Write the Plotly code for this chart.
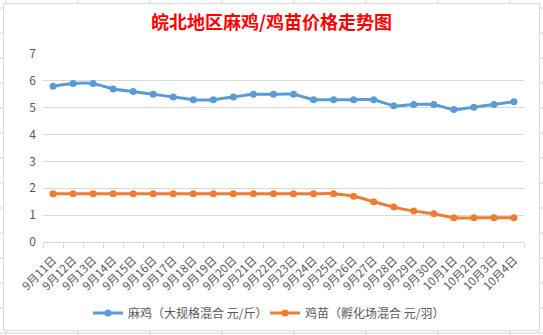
import plotly.graph_objects as go

dates = ["9月11日", "9月12日", "9月13日", "9月14日", "9月15日", "9月16日", "9月17日", "9月18日",
         "9月19日", "9月20日", "9月21日", "9月22日", "9月23日", "9月24日", "9月25日", "9月26日",
         "9月27日", "9月28日", "9月29日", "9月30日", "10月1日", "10月2日", "10月3日", "10月4日"]
maji = [5.8, 5.9, 5.9, 5.7, 5.6, 5.5, 5.4, 5.3, 5.3, 5.4, 5.5, 5.5,
        5.5, 5.3, 5.3, 5.3, 5.3, 5.07, 5.12, 5.12, 4.93, 5.02, 5.12, 5.22]
jimiao = [1.8, 1.8, 1.8, 1.8, 1.8, 1.8, 1.8, 1.8, 1.8, 1.8, 1.8, 1.8,
          1.8, 1.8, 1.8, 1.7, 1.5, 1.3, 1.15, 1.05, 0.9, 0.9, 0.9, 0.9]
series_names = ["麻鸡（大规格混合 元/斤）", "鸡苗（孵化场混合 元/羽）"]
title_text = "皖北地区麻鸡/鸡苗价格走势图"

W, H = 543, 335
L, R, T, B = 43, 19, 54, 93
pw, ph = W - L - R, H - T - B

def px(x):
    return (x - L) / pw

def py(y):
    return (H - B - y) / ph

fig = go.Figure()
fig.add_trace(go.Scatter(x=dates, y=maji, name=series_names[0], mode="lines+markers",
                         line=dict(color="#5B9BD5", width=3, shape="spline", smoothing=0.5),
                         marker=dict(size=7, color="#5B9BD5"), legend="legend"))
fig.add_trace(go.Scatter(x=dates, y=jimiao, name=series_names[1], mode="lines+markers",
                         line=dict(color="#ED7D31", width=3, shape="spline", smoothing=0.5),
                         marker=dict(size=7, color="#ED7D31"), legend="legend2"))

shapes = []
grid_c = "#D4D4D4"
for cx in [6, 78, 150, 222, 294, 366, 438, 510]:
    shapes.append(dict(type="line", xref="paper", yref="paper", x0=px(cx), x1=px(cx),
                       y0=py(0), y1=py(H), line=dict(color=grid_c, width=1), layer="below"))
for ry in [8, 33, 58, 83, 108, 133, 158, 183, 208, 233, 258, 283, 308, 333]:
    shapes.append(dict(type="line", xref="paper", yref="paper", x0=px(0), x1=px(W),
                       y0=py(ry), y1=py(ry), line=dict(color=grid_c, width=1), layer="below"))
shapes.append(dict(type="rect", xref="paper", yref="paper", x0=px(3.5), x1=px(539.5),
                   y0=py(330.5), y1=py(3.5), fillcolor="white",
                   line=dict(color="#D9D9D9", width=1), layer="below"))

leg_common = dict(orientation="h", xref="container", yref="container", xanchor="left",
                  y=1 - 313 / H, yanchor="middle", font=dict(size=12, color="#595959"),
                  itemwidth=30, bgcolor="rgba(0,0,0,0)")

fig.update_layout(
    width=W, height=H,
    margin=dict(l=L, r=R, t=T, b=B, autoexpand=False),
    paper_bgcolor="white", plot_bgcolor="rgba(0,0,0,0)",
    font=dict(family="Noto Sans CJK SC", color="#595959"),
    title=dict(text="<b>" + title_text + "</b>", x=0.5, xref="container", xanchor="center",
               y=1 - 23 / H, yref="container", yanchor="middle",
               font=dict(size=18, color="#FF0000", family="Noto Sans CJK SC")),
    showlegend=True,
    legend=dict(x=88 / W, **leg_common),
    legend2=dict(x=265 / W, **leg_common),
    shapes=shapes,
)
fig.update_xaxes(type="category", showgrid=False, showline=True, linecolor="#D9D9D9", linewidth=1,
                 ticks="outside", ticklen=5, tickcolor="#D9D9D9", tickson="boundaries",
                 tickangle=-45, tickfont=dict(size=11.5, color="#595959"), range=[-0.5, 23.5],
                 ticklabelstandoff=6, automargin=False)
fig.update_yaxes(range=[0, 7], dtick=1, showgrid=True, gridcolor="#D9D9D9", gridwidth=1,
                 zeroline=False, showline=False, tickfont=dict(size=12, color="#595959"),
                 ticklabelstandoff=6, automargin=False)

fig.write_html("out.html")
